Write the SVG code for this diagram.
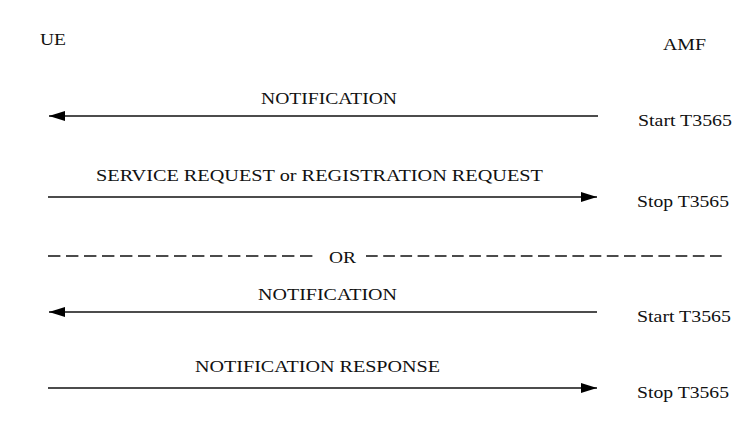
<svg xmlns="http://www.w3.org/2000/svg" width="755" height="430" viewBox="0 0 755 430">
<style>
text{font-family:"Liberation Serif","Times New Roman",serif;font-size:17.5px;fill:#111;}
.msg{stroke:#111;stroke-width:1.5;fill:none;}
.dash{stroke:#111;stroke-width:1.5;fill:none;}
</style>
<defs>
<marker id="ah" viewBox="0 0 16 10" refX="16" refY="5" markerWidth="16" markerHeight="10" markerUnits="userSpaceOnUse" orient="auto">
<path d="M0,0 L16,5 L0,10 Z" fill="#000"/>
</marker>
</defs>
<rect width="755" height="430" fill="#fff"/>
<g id="ue"><text x="40" y="45" textLength="26" lengthAdjust="spacingAndGlyphs">UE</text></g>
<g id="amf"><text x="663" y="50" textLength="43" lengthAdjust="spacingAndGlyphs">AMF</text></g>
<g id="connectors">
<line class="msg" x1="598" y1="116" x2="49" y2="116" marker-end="url(#ah)"/>
<line class="msg" x1="48" y1="197" x2="597" y2="197" marker-end="url(#ah)"/>
<line class="dash" x1="48" y1="256" x2="313" y2="256" stroke-dasharray="12.4 5.6"/>
<line class="dash" x1="366" y1="256" x2="722" y2="256" stroke-dasharray="11.7 5.5"/>
<line class="msg" x1="597" y1="312" x2="49" y2="312" marker-end="url(#ah)"/>
<line class="msg" x1="48" y1="388" x2="597" y2="388" marker-end="url(#ah)"/>
</g>
<g id="labels">
<text x="261" y="104" textLength="136" lengthAdjust="spacingAndGlyphs">NOTIFICATION</text>
<text x="638" y="126" textLength="94" lengthAdjust="spacingAndGlyphs">Start T3565</text>
<text x="96" y="181" textLength="447" lengthAdjust="spacingAndGlyphs">SERVICE REQUEST or REGISTRATION REQUEST</text>
<text x="637" y="207" textLength="92" lengthAdjust="spacingAndGlyphs">Stop T3565</text>
<text x="329" y="263" textLength="27" lengthAdjust="spacingAndGlyphs">OR</text>
<text x="258" y="300" textLength="139" lengthAdjust="spacingAndGlyphs">NOTIFICATION</text>
<text x="637" y="322" textLength="94" lengthAdjust="spacingAndGlyphs">Start T3565</text>
<text x="195" y="372" textLength="245" lengthAdjust="spacingAndGlyphs">NOTIFICATION RESPONSE</text>
<text x="637" y="398" textLength="92" lengthAdjust="spacingAndGlyphs">Stop T3565</text>
</g>
</svg>
